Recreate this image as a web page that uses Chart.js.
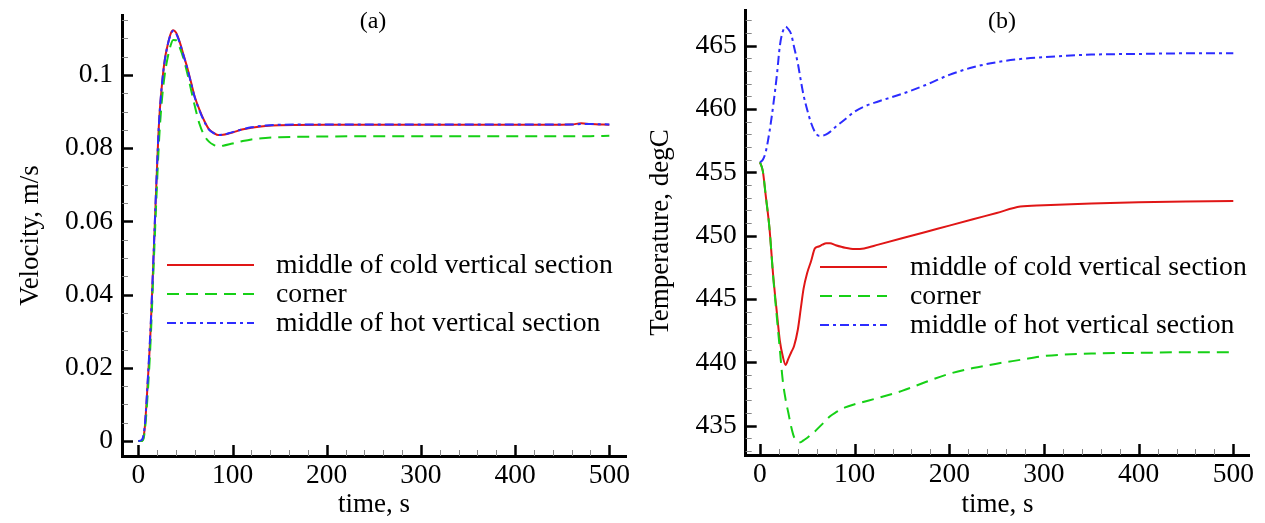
<!DOCTYPE html>
<html>
<head>
<meta charset="utf-8">
<script src="https://cdn.jsdelivr.net/npm/chart.js@4.4.1/dist/chart.umd.min.js"></script>
<style>
  html, body { margin: 0; padding: 0; background: #fff; }
  #wrap { position: relative; width: 1265px; height: 523px; }
  canvas { position: absolute; top: 0; }
  #velocita { left: 0; }
  #temperatura { left: 640px; }
</style>
</head>
<body>
<div id="wrap">
  <canvas id="velocita" width="640" height="523"></canvas>
  <canvas id="temperatura" width="625" height="523"></canvas>
</div>
<script>
// DATI (a) - velocita
const velTime = [0, 3, 5, 7, 10, 13, 16, 19, 22, 25, 28, 31, 34, 37, 40, 44, 48, 52, 56, 60, 65, 70, 75, 80, 85, 90, 100, 110, 120, 135, 150, 200, 300, 400, 460, 470, 480, 500];
const velCold = [0, 0, 0.0005, 0.004, 0.016, 0.030, 0.049, 0.069, 0.087, 0.097, 0.104, 0.108, 0.111, 0.1122, 0.1116, 0.109, 0.1055, 0.102, 0.098, 0.094, 0.0905, 0.0875, 0.0852, 0.0842, 0.0836, 0.0837, 0.0843, 0.0851, 0.0856, 0.0861, 0.0863, 0.0864, 0.0864, 0.0864, 0.0865, 0.0868, 0.0866, 0.0864];
const velCorner = [0, 0, 0.0003, 0.003, 0.013, 0.027, 0.046, 0.065, 0.082, 0.093, 0.1, 0.1045, 0.1078, 0.1096, 0.1095, 0.1075, 0.1045, 0.1005, 0.096, 0.0915, 0.0866, 0.0835, 0.0818, 0.0809, 0.0805, 0.0807, 0.0813, 0.0819, 0.0824, 0.0828, 0.083, 0.0832, 0.0833, 0.0833, 0.0833, 0.0833, 0.0833, 0.0834];
const velHot = [0, 0.0002, 0.001, 0.0045, 0.0165, 0.031, 0.0495, 0.0695, 0.087, 0.0972, 0.1038, 0.108, 0.1108, 0.1121, 0.1114, 0.1088, 0.1053, 0.1018, 0.0978, 0.0938, 0.0903, 0.0873, 0.0851, 0.0841, 0.0836, 0.0837, 0.0844, 0.0851, 0.0857, 0.0862, 0.0864, 0.0865, 0.0865, 0.0865, 0.0865, 0.0866, 0.0866, 0.0865];
const velTicks = [0, 0.02, 0.04, 0.06, 0.08, 0.1];

// DATI (b) - temperatura
const tempTime = [0, 3, 6, 10, 14, 18, 21, 24, 27, 30, 33, 36, 40, 43, 46, 50, 54, 58, 62, 66, 70, 74, 80, 90, 100, 110, 125, 150, 175, 200, 225, 250, 275, 300, 350, 400, 450, 500];
const tempCold = [455.8, 455.1, 453.2, 450.6, 446.8, 443.8, 441.7, 440.5, 439.8, 440.3, 440.8, 441.3, 442.6, 444.2, 445.8, 447.1, 448.0, 449.0, 449.15, 449.3, 449.4, 449.4, 449.25, 449.05, 448.95, 449.0, 449.3, 449.8, 450.3, 450.8, 451.3, 451.8, 452.3, 452.4, 452.55, 452.65, 452.7, 452.75];
const tempCorner = [455.8, 455.1, 453.2, 450.6, 446.7, 443.4, 441.0, 438.6, 437.1, 436.0, 434.9, 434.1, 433.75, 433.7, 433.85, 434.05, 434.3, 434.55, 434.85, 435.15, 435.45, 435.75, 436.05, 436.45, 436.7, 436.9, 437.2, 437.75, 438.45, 439.1, 439.55, 439.9, 440.2, 440.5, 440.7, 440.75, 440.8, 440.8];
const tempHot = [455.8, 456.0, 456.6, 458.2, 460.3, 462.8, 465.0, 466.1, 466.5, 466.3, 465.9, 464.9, 463.6, 462.3, 461.1, 459.9, 458.9, 458.2, 457.9, 457.9, 458.0, 458.2, 458.6, 459.2, 459.8, 460.2, 460.6, 461.2, 461.9, 462.7, 463.3, 463.7, 463.95, 464.1, 464.3, 464.35, 464.4, 464.4];
const tempTicks = [435, 440, 445, 450, 455, 460, 465];

const timeTicks = [0, 100, 200, 300, 400, 500];
const seriesNames = ['middle of cold vertical section', 'corner', 'middle of hot vertical section'];

const SERIF = "'Liberation Serif', 'Times New Roman', serif";
Chart.defaults.font.family = SERIF;
Chart.defaults.color = '#000';

// stile delle tre curve (rosso pieno, verde tratteggiato, blu tratto-punto)
const stili = [
  { borderColor: '#e01616', borderDash: [], order: 3 },
  { borderColor: '#16d016', borderDash: [12, 7], order: 2 },
  { borderColor: '#2c2cff', borderDash: [9, 4, 3, 4], order: 1 }
];

function punti(xs, ys) {
  return xs.map((x, i) => ({ x: x, y: ys[i] }));
}

function datasets(xs, serie) {
  return serie.map((ys, i) => ({
    label: seriesNames[i],
    data: punti(xs, ys),
    borderColor: stili[i].borderColor,
    borderDash: stili[i].borderDash,
    order: stili[i].order,
    borderWidth: 2,
    pointRadius: 0,
    fill: false,
    cubicInterpolationMode: 'monotone'
  }));
}

// Tacche interne, legenda e etichetta del pannello
const tacche = {
  id: 'tacche',
  afterDatasetsDraw(chart, args, opts) {
    const ctx = chart.ctx;
    const { left, bottom } = chart.chartArea;
    const sx = chart.scales.x, sy = chart.scales.y;
    ctx.save();
    ctx.lineCap = 'butt';

    const eMaggiore = (v, lista) => lista.some(t => Math.abs(t - v) < 1e-9);

    // asse x
    const x0 = Math.ceil(sx.min / opts.xMinor) * opts.xMinor;
    for (let v = x0; v <= sx.max + 1e-9; v += opts.xMinor) {
      const p = Math.round(sx.getPixelForValue(v)) + 0.5;
      const mag = eMaggiore(v, timeTicks);
      ctx.strokeStyle = mag ? '#000' : '#888';
      ctx.lineWidth = mag ? 2.5 : 1;
      ctx.beginPath();
      ctx.moveTo(p, bottom);
      ctx.lineTo(p, bottom - (mag ? 11 : 6));
      ctx.stroke();
    }

    // asse y
    const y0 = Math.ceil(sy.min / opts.yMinor - 1e-6) * opts.yMinor;
    for (let k = 0; y0 + k * opts.yMinor <= sy.max + 1e-9; k++) {
      const v = y0 + k * opts.yMinor;
      const p = Math.round(sy.getPixelForValue(v)) + 0.5;
      const mag = eMaggiore(v, opts.major);
      ctx.strokeStyle = mag ? '#000' : '#888';
      ctx.lineWidth = mag ? 2.5 : 1;
      ctx.beginPath();
      ctx.moveTo(left, p);
      ctx.lineTo(left + (mag ? 11 : 6), p);
      ctx.stroke();
    }
    ctx.restore();
  },
  afterDraw(chart, args, opts) {
    const ctx = chart.ctx;
    const leg = opts.legend;
    ctx.save();
    chart.data.datasets.forEach((ds, i) => {
      const y = leg.y0 + i * leg.dy;
      ctx.strokeStyle = ds.borderColor;
      ctx.lineWidth = 2;
      ctx.setLineDash(ds.borderDash);
      ctx.beginPath();
      ctx.moveTo(leg.x0, y);
      ctx.lineTo(leg.x1, y);
      ctx.stroke();
      ctx.setLineDash([]);
      ctx.fillStyle = '#000';
      ctx.font = '27.7px ' + SERIF;
      ctx.textAlign = 'left';
      ctx.textBaseline = 'middle';
      ctx.fillText(ds.label, leg.tx, y + 1);
    });

    ctx.font = '24px ' + SERIF;
    ctx.textAlign = 'center';
    ctx.textBaseline = 'middle';
    ctx.fillStyle = '#000';
    ctx.fillText(opts.label, opts.labelX, opts.labelY);
    ctx.restore();
  }
};

// niente margini extra calcolati dalle etichette: l'area del grafico resta dove la vogliamo
function azzeraMargini(s) {
  s.paddingTop = 0;
  s.paddingBottom = 0;
  s.paddingLeft = 0;
  s.paddingRight = 0;
}

function scalaX(min, max, altezza) {
  return {
    type: 'linear',
    min: min,
    max: max,
    afterBuildTicks: s => { s.ticks = timeTicks.map(v => ({ value: v })); },
    afterFit: s => { s.height = altezza; azzeraMargini(s); },
    ticks: { font: { family: 'Liberation Serif', size: 27.5 }, color: '#000', padding: 3, maxRotation: 0, autoSkip: false,
             callback: v => String(v) },
    grid: { display: false, drawTicks: false },
    border: { display: true, width: 3, color: '#000' },
    title: { display: true, text: 'time, s', color: '#000', font: { family: SERIF, size: 27 }, padding: { top: 0, bottom: 2 } }
  };
}

function scalaY(min, max, larghezza, valori, titolo, padTitolo) {
  return {
    type: 'linear',
    min: min,
    max: max,
    afterBuildTicks: s => { s.ticks = valori.map(v => ({ value: v })); },
    afterFit: s => { s.width = larghezza; azzeraMargini(s); },
    ticks: { font: { family: 'Liberation Serif', size: 27.5 }, color: '#000', padding: 9, autoSkip: false,
             callback: v => String(v) },
    grid: { display: false, drawTicks: false },
    border: { display: true, width: 3, color: '#000' },
    title: { display: true, text: titolo, color: '#000', font: { family: SERIF, size: 27 }, padding: { top: padTitolo, bottom: 0 } }
  };
}

// GRAFICO (a)
new Chart(document.getElementById('velocita'), {
  type: 'line',
  data: { datasets: datasets(velTime, [velCold, velCorner, velHot]) },
  options: {
    responsive: false,
    animation: false,
    layout: { padding: { top: 15, right: 14, left: 0, bottom: 0 } },
    scales: {
      x: scalaX(-17.3, 517.7, 67),
      y: scalaY(-0.0041, 0.1164, 122, velTicks, 'Velocity, m/s', 15)
    },
    plugins: {
      legend: { display: false },
      tooltip: { enabled: false },
      tacche: {
        xMinor: 20, yMinor: 0.005, major: velTicks,
        label: '(a)', labelX: 373, labelY: 22,
        legend: { x0: 167, x1: 254, tx: 276, y0: 265, dy: 29 }
      }
    }
  },
  plugins: [tacche]
});

// GRAFICO (b)
new Chart(document.getElementById('temperatura'), {
  type: 'line',
  data: { datasets: datasets(tempTime, [tempCold, tempCorner, tempHot]) },
  options: {
    responsive: false,
    animation: false,
    layout: { padding: { top: 10, right: 15.7, left: 0, bottom: 0 } },
    scales: {
      x: scalaX(-15.1, 516.9, 68),
      y: scalaY(432.69, 467.82, 105.7, tempTicks, 'Temperature, degC', 5)
    },
    plugins: {
      legend: { display: false },
      tooltip: { enabled: false },
      tacche: {
        xMinor: 20, yMinor: 1, major: tempTicks,
        label: '(b)', labelX: 362, labelY: 22,
        legend: { x0: 180, x1: 247, tx: 270, y0: 267, dy: 29 }
      }
    }
  },
  plugins: [tacche]
});
</script>
</body>
</html>
